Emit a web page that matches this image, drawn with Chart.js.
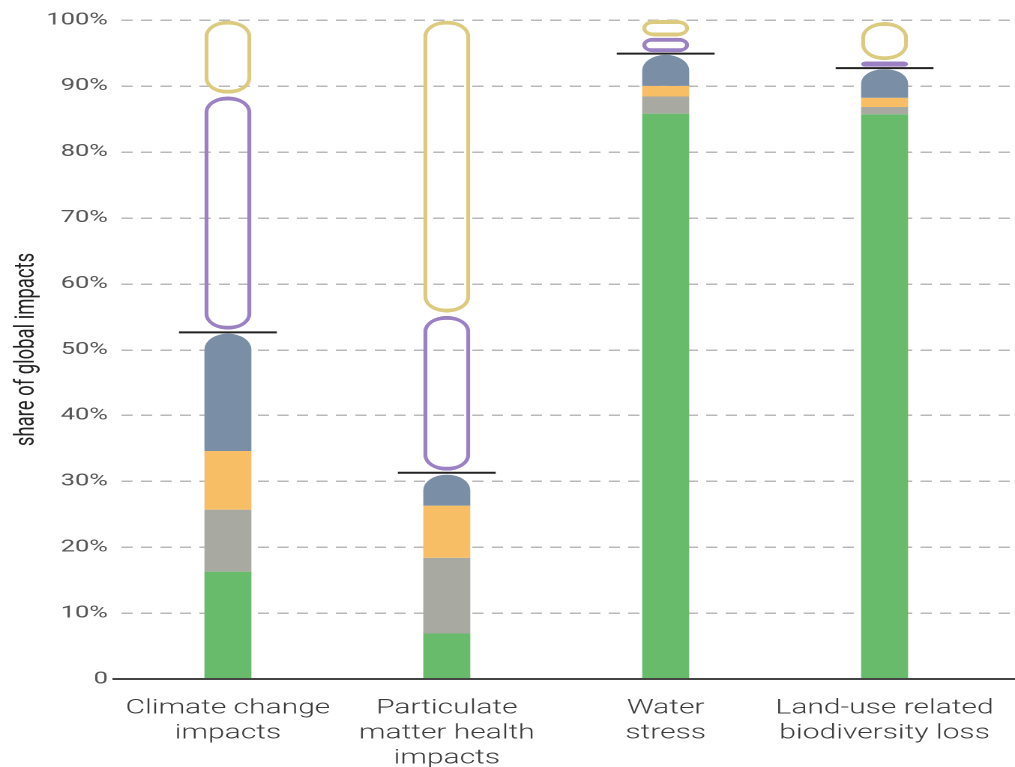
<!DOCTYPE html>
<html><head><meta charset="utf-8">
<style>
html,body{margin:0;padding:0;background:#fff;overflow:hidden}
#c{display:block;width:1015px !important;height:767px !important}
</style>
<script src="https://cdn.jsdelivr.net/npm/chart.js@4"></script>
</head><body>
<canvas id="c" width="677" height="767" style="width:1015px;height:767px"></canvas>
<script>
const categories = [
  ['Climate change', 'impacts'],
  ['Particulate', 'matter health', 'impacts'],
  ['Water', 'stress'],
  ['Land-use related', 'biodiversity loss']
];
const greenShare  = [16.3, 6.9, 85.8, 85.7];
const grayShare   = [9.4, 11.5, 2.6, 1.1];
const orangeShare = [8.9, 7.9, 1.6, 1.4];
const blueShare   = [17.8, 4.7, 4.7, 4.3];
const totalMark   = [52.6, 31.3, 94.9, 92.7];
const purpleLow   = [53.0, 31.6, 95.1, 92.9];
const purpleHigh  = [88.4, 55.1, 97.3, 93.7];
const yellowLow   = [88.8, 55.6, 97.5, 93.9];
const yellowHigh  = [99.9, 99.9, 100.0, 99.7];
const yTickValues = [0, 10, 20, 30, 40, 50, 60, 70, 80, 90, 100];
const yTickLabels = ['0', '10%', '20%', '30%', '40%', '50%', '60%', '70%', '80%', '90%', '100%'];

const BAR_PCT = 0.2146;
const stackSeries = [greenShare, grayShare, orangeShare, blueShare];
const base = categories.map(() => 0);
const solidRanges = stackSeries.map(s => s.map((v, i) => {
  const r = [base[i], base[i] + v];
  base[i] += v;
  return r;
}));

const gridPlugin = {
  id: 'extgrid',
  beforeDatasetsDraw(chart) {
    const {ctx, chartArea, scales: {y}} = chart;
    ctx.save();
    ctx.strokeStyle = '#b9b9b9';
    ctx.lineWidth = 1.5;
    ctx.setLineDash([7.5, 5.5]);
    yTickValues.forEach(v => {
      if (v === 0) return;
      const py = Math.round(y.getPixelForValue(v)) + 0.25;
      ctx.beginPath();
      ctx.moveTo(chartArea.left + 2, py);
      ctx.lineTo(chart.width, py);
      ctx.stroke();
    });
    ctx.restore();
  },
  afterDatasetsDraw(chart) {
    const {ctx, chartArea, scales: {y}} = chart;
    const p0 = y.getPixelForValue(0);
    ctx.save();
    ctx.strokeStyle = '#444';
    ctx.lineWidth = 2;
    ctx.beginPath();
    ctx.moveTo(chartArea.left - 4, p0);
    ctx.lineTo(chart.width, p0);
    ctx.stroke();
    ctx.restore();
  }
};

const outline = (label, low, high, color) => ({
  label,
  data: low.map((v, i) => [v, high[i]]),
  backgroundColor: 'rgba(0,0,0,0)',
  borderColor: color,
  borderWidth: {left: 2.7, right: 2.7, top: 4, bottom: 4},
  borderRadius: 16,
  borderSkipped: false,
  barPercentage: BAR_PCT,
  categoryPercentage: 1
});
const solid = (label, ranges, color, radius) => ({
  label,
  data: ranges,
  backgroundColor: color,
  borderWidth: 0,
  borderRadius: radius || 0,
  borderSkipped: false,
  barPercentage: BAR_PCT,
  categoryPercentage: 1
});

new Chart(document.getElementById('c'), {
  type: 'bar',
  data: {
    labels: categories,
    datasets: [
      {
        label: 'total',
        data: totalMark.map(v => [v - 0.15, v + 0.15]),
        backgroundColor: '#222',
        borderWidth: 0,
        barPercentage: 0.447,
        categoryPercentage: 1
      },
      outline('purple', purpleLow, purpleHigh, '#9b80c4'),
      outline('yellow', yellowLow, yellowHigh, '#dccb7e'),
      solid('blue', solidRanges[3], '#7a8ea6', {topLeft: 16, topRight: 16, bottomLeft: 0, bottomRight: 0}),
      solid('orange', solidRanges[2], '#f7be66'),
      solid('gray', solidRanges[1], '#a8a9a1'),
      solid('green', solidRanges[0], '#67bb6b')
    ]
  },
  options: {
    responsive: false,
    devicePixelRatio: 2,
    animation: false,
    layout: {padding: {top: 20, right: 14, left: 0, bottom: 0}},
    plugins: {legend: {display: false}, tooltip: {enabled: false}},
    scales: {
      x: {
        stacked: true,
        offset: true,
        grid: {display: false, drawTicks: false},
        border: {display: false},
        ticks: {
          autoSkip: false, maxRotation: 0, minRotation: 0,
          padding: 17,
          color: '#3a3a3a',
          font: {family: 'Roboto', size: 20, weight: 300, lineHeight: 1.25}
        },
        afterFit: s => { s.height = 88; s.paddingLeft = 0; s.paddingRight = 0; }
      },
      y: {
        stacked: false,
        min: 0, max: 100,
        grid: {display: false, drawTicks: false},
        border: {display: false},
        afterBuildTicks: s => { s.ticks = yTickValues.map(v => ({value: v})); },
        ticks: {
          padding: 7,
          color: '#555',
          font: {family: 'Roboto', size: 17},
          callback: (v, i) => yTickLabels[i]
        },
        title: {
          display: true,
          text: 'share of global impacts',
          color: '#222',
          font: {family: 'Roboto', size: 18.5},
          padding: {top: 7, bottom: 0}
        },
        afterFit: s => { s.width = 79; }
      }
    }
  },
  plugins: [gridPlugin]
});
</script>
</body></html>
